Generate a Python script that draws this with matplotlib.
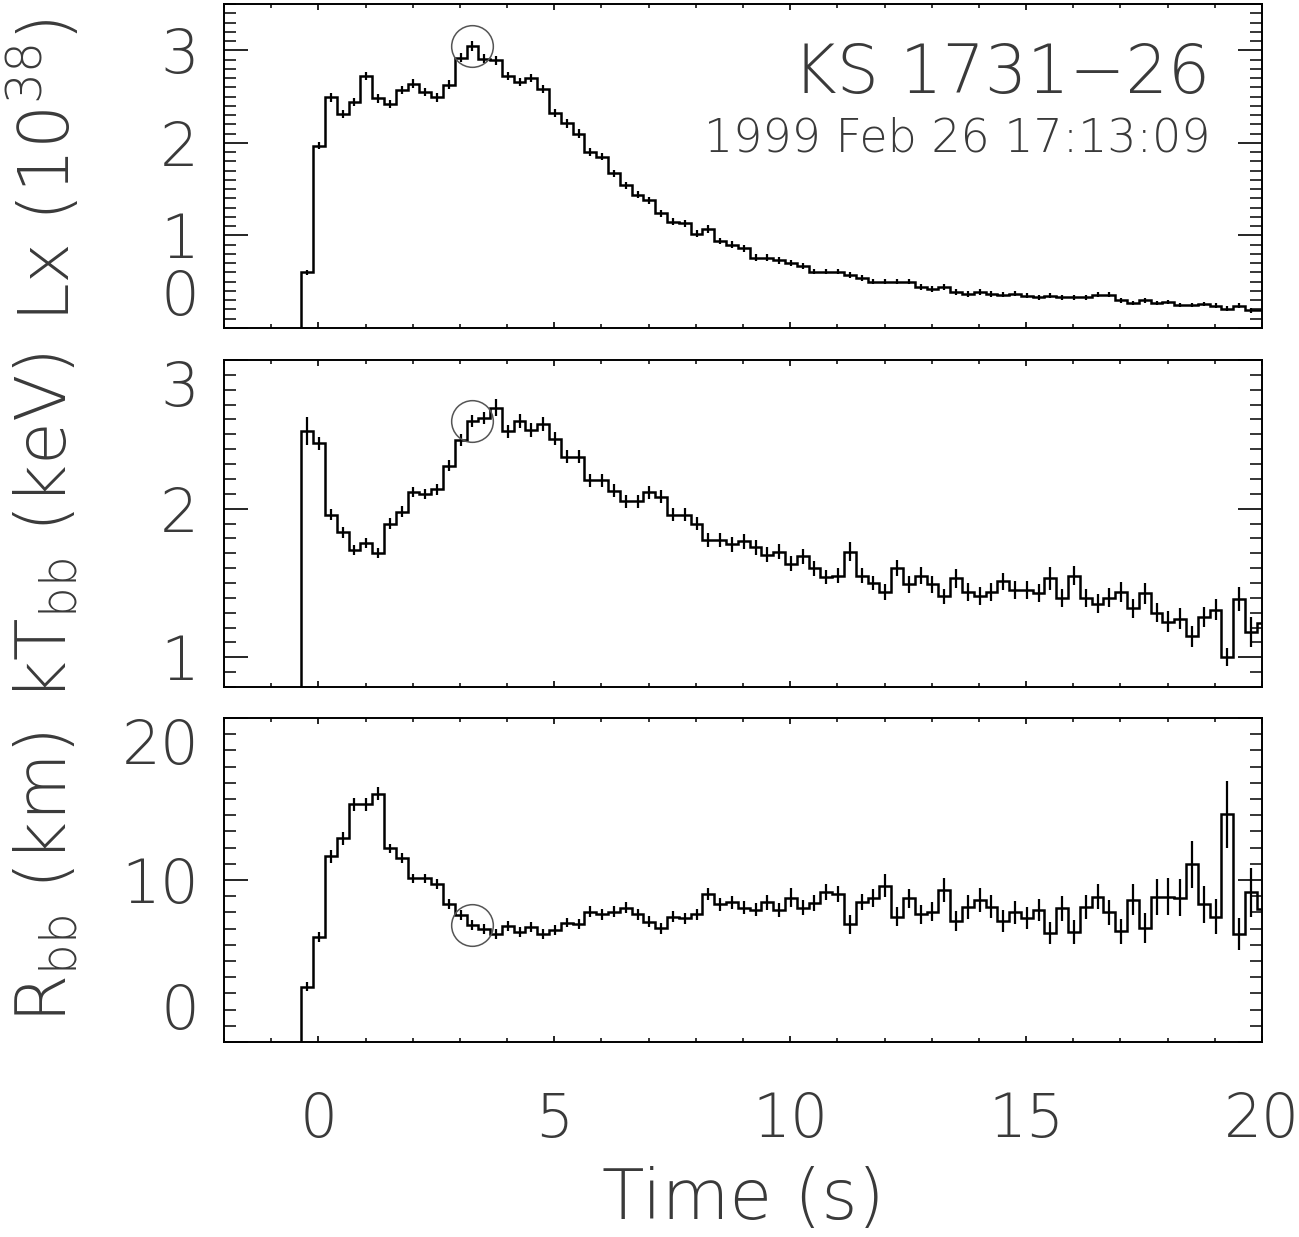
import numpy as np
import matplotlib
matplotlib.use('Agg')
import matplotlib.pyplot as plt
from matplotlib import font_manager as fm
from matplotlib.ticker import FixedLocator, MultipleLocator

# ---------------- data ----------------
bin_start = -0.36          # s, start of first time bin
bin_width = 0.25           # s

lum = [0.60, 1.97, 2.49, 2.31, 2.44, 2.72, 2.48, 2.42, 2.57, 2.64,
       2.55, 2.49, 2.63, 2.92, 3.05, 2.91, 2.89, 2.72, 2.66, 2.70,
       2.58, 2.32, 2.21, 2.10, 1.90, 1.85, 1.67, 1.54, 1.44, 1.38,
       1.24, 1.15, 1.13, 1.02, 1.07, 0.94, 0.90, 0.86, 0.76, 0.76,
       0.73, 0.70, 0.67, 0.61, 0.61, 0.61, 0.57, 0.54, 0.50, 0.50,
       0.50, 0.50, 0.44, 0.42, 0.44, 0.39, 0.37, 0.39, 0.37, 0.36,
       0.37, 0.35, 0.33, 0.35, 0.33, 0.33, 0.33, 0.36, 0.36, 0.30,
       0.27, 0.30, 0.27, 0.28, 0.25, 0.25, 0.26, 0.24, 0.21, 0.24,
       0.19, 0.19]
lum_err = [0.03, 0.04, 0.045, 0.045, 0.045, 0.045, 0.045, 0.045, 0.045, 0.045,
           0.045, 0.045, 0.045, 0.05, 0.055, 0.045, 0.045, 0.045, 0.045, 0.045,
           0.045, 0.045, 0.045, 0.045, 0.045, 0.04, 0.04, 0.04, 0.04, 0.04,
           0.04, 0.04, 0.04, 0.04, 0.04, 0.035, 0.035, 0.035, 0.035, 0.035,
           0.035, 0.03, 0.03, 0.03, 0.03, 0.03, 0.03, 0.03, 0.03, 0.03,
           0.03, 0.03, 0.03, 0.03, 0.03, 0.03, 0.03, 0.03, 0.03, 0.03,
           0.025, 0.025, 0.025, 0.025, 0.025, 0.025, 0.025, 0.025, 0.025, 0.025,
           0.025, 0.025, 0.025, 0.025, 0.025, 0.025, 0.025, 0.025, 0.025, 0.025,
           0.025, 0.025]

kt = [2.52, 2.44, 1.96, 1.84, 1.72, 1.77, 1.70, 1.90, 1.98, 2.11,
      2.10, 2.13, 2.29, 2.46, 2.59, 2.61, 2.68, 2.52, 2.59, 2.53,
      2.57, 2.47, 2.35, 2.35, 2.19, 2.19, 2.12, 2.05, 2.05, 2.11,
      2.08, 1.96, 1.96, 1.90, 1.79, 1.79, 1.76, 1.78, 1.74, 1.69,
      1.71, 1.63, 1.68, 1.60, 1.54, 1.55, 1.71, 1.55, 1.50, 1.44,
      1.60, 1.49, 1.55, 1.49, 1.41, 1.53, 1.44, 1.41, 1.44, 1.51,
      1.45, 1.45, 1.43, 1.53, 1.40, 1.55, 1.40, 1.36, 1.40, 1.44,
      1.33, 1.43, 1.30, 1.24, 1.26, 1.14, 1.27, 1.32, 1.00, 1.39,
      1.17, 1.23]
kt_err = [0.095, 0.045, 0.035, 0.035, 0.035, 0.035, 0.035, 0.035, 0.035, 0.035,
          0.035, 0.035, 0.035, 0.04, 0.04, 0.04, 0.06, 0.045, 0.045, 0.045,
          0.045, 0.045, 0.045, 0.045, 0.045, 0.045, 0.045, 0.045, 0.045, 0.045,
          0.045, 0.045, 0.045, 0.045, 0.045, 0.045, 0.05, 0.05, 0.05, 0.05,
          0.05, 0.05, 0.05, 0.05, 0.05, 0.05, 0.065, 0.05, 0.05, 0.055,
          0.055, 0.055, 0.055, 0.055, 0.05, 0.067, 0.06, 0.06, 0.06, 0.06,
          0.06, 0.06, 0.06, 0.08, 0.06, 0.065, 0.06, 0.065, 0.065, 0.065,
          0.065, 0.07, 0.065, 0.07, 0.07, 0.07, 0.065, 0.07, 0.06, 0.08,
          0.1, 0.1]

rbb = [3.42, 6.50, 11.48, 12.57, 14.67, 14.67, 15.31, 11.95, 11.38, 10.10,
       10.10, 9.75, 8.52, 7.84, 7.22, 6.98, 6.67, 7.16, 6.81, 7.12,
       6.67, 6.91, 7.37, 7.28, 8.04, 7.88, 8.04, 8.29, 7.88, 7.43,
       7.02, 7.74, 7.63, 7.88, 9.12, 8.50, 8.62, 8.29, 8.15, 8.62,
       8.15, 8.91, 8.29, 8.56, 9.28, 9.12, 7.26, 8.62, 8.91, 9.65,
       7.74, 8.87, 7.88, 8.04, 9.38, 7.47, 8.35, 8.77, 8.35, 7.47,
       8.00, 7.65, 8.15, 6.71, 8.25, 6.77, 8.35, 8.97, 8.00, 6.85,
       8.77, 7.02, 8.97, 8.97, 8.91, 10.97, 8.50, 7.74, 14.05, 6.65,
       9.24, 8.20]
rbb_err = [0.3, 0.3, 0.4, 0.4, 0.4, 0.4, 0.4, 0.3, 0.3, 0.3,
           0.3, 0.3, 0.3, 0.3, 0.3, 0.3, 0.3, 0.3, 0.3, 0.3,
           0.3, 0.3, 0.3, 0.3, 0.35, 0.35, 0.35, 0.35, 0.35, 0.35,
           0.35, 0.35, 0.35, 0.35, 0.36, 0.4, 0.4, 0.4, 0.4, 0.45,
           0.45, 0.57, 0.45, 0.5, 0.5, 0.5, 0.57, 0.5, 0.55, 0.72,
           0.6, 0.6, 0.6, 0.6, 0.72, 0.6, 0.74, 0.72, 0.7, 0.7,
           0.7, 0.7, 0.7, 0.67, 0.75, 0.75, 0.75, 0.76, 0.75, 0.77,
           0.96, 0.93, 1.1, 1.13, 1.13, 1.44, 1.16, 1.08, 2.06, 1.0,
           1.5, 1.0]

marked_bin = 14   # circled time bin

x_limits = (-2, 20)
x_major = [0, 5, 10, 15, 20]
x_labels = ['0', '5', '10', '15', '20']

panels = [
    dict(y=lum, err=lum_err, ylim=(0, 3.5), major=[0, 1, 2, 3], labels=['0', '1', '2', '3'], minor=0.1,
         ylabel=r'Lx (10$^{38}$)'),
    dict(y=kt, err=kt_err, ylim=(0.8, 3.0), major=[1, 2, 3], labels=['1', '2', '3'], minor=0.1,
         ylabel=r'kT$_{\rm bb}$ (keV)'),
    dict(y=rbb, err=rbb_err, ylim=(0, 20), major=[0, 10, 20], labels=['0', '10', '20'], minor=1,
         ylabel=r'R$_{\rm bb}$ (km)'),
]

source_name = 'KS 1731\u221226'
obs_date = '1999 Feb 26 17:13:09'

# ---------------- font ----------------
def pick_font():
    for fam in ['DejaVu Sans', 'Roboto', 'Lato', 'Open Sans', 'Noto Sans', 'Inter']:
        ws = []
        for f in fm.fontManager.ttflist:
            if f.name == fam and f.style == 'normal':
                w = f.weight if isinstance(f.weight, int) else fm.weight_dict.get(f.weight, 400)
                ws.append(w)
        light = [w for w in ws if 150 <= w <= 300]
        if light:
            return fam, min(light)
    return 'DejaVu Sans', 400

fam, wt = pick_font()
plt.rcParams['font.family'] = [fam, 'DejaVu Sans']
plt.rcParams['font.weight'] = wt
plt.rcParams['mathtext.fontset'] = 'custom'
plt.rcParams['mathtext.rm'] = f'{fam}:weight={wt}'
plt.rcParams['mathtext.it'] = f'{fam}:weight={wt}'
plt.rcParams['mathtext.default'] = 'regular'

txt_color = '#3a3a3a'

# ---------------- figure ----------------
W, H = 1299, 1237
fig = plt.figure(figsize=(W / 100, H / 100), dpi=100)

left_px, right_px = 224, 1262
tops = [(4, 328), (360, 687), (718, 1042)]
label_y_px = [170, 527, 877]

n = len(lum)
edges = bin_start + bin_width * np.arange(n + 1)
centers = 0.5 * (edges[:-1] + edges[1:])

axes = []
for i, (p, (tpx, bpx)) in enumerate(zip(panels, tops)):
    ax = fig.add_axes([left_px / W, 1 - bpx / H, (right_px - left_px) / W, (bpx - tpx) / H])
    axes.append(ax)
    y = np.array(p['y'])
    e = np.array(p['err'])
    ax.stairs(y, edges, baseline=p['ylim'][0], color='black', lw=1.8)
    ax.errorbar(centers, y, yerr=e, fmt='none', ecolor='black', elinewidth=1.6, capsize=0)
    ax.plot([centers[marked_bin]], [y[marked_bin]], 'o', ms=30, mfc='none', mec='#555555', mew=1.1)
    ax.set_xlim(*x_limits)
    ax.set_ylim(*p['ylim'])

    ax.xaxis.set_major_locator(FixedLocator(x_major))
    ax.xaxis.set_minor_locator(MultipleLocator(1))
    ax.yaxis.set_major_locator(FixedLocator(p['major']))
    ax.yaxis.set_minor_locator(MultipleLocator(p['minor']))
    ax.set_yticklabels(p['labels'])
    if i == 2:
        ax.set_xticklabels(x_labels)
    else:
        ax.set_xticklabels([])

    ax.tick_params(axis='both', which='both', direction='in', top=True, right=True,
                   colors='black', labelcolor=txt_color)
    ax.tick_params(axis='x', which='major', length=4.5, width=1.2, labelsize=43, pad=35)
    ax.tick_params(axis='x', which='minor', length=2.6, width=1.1)
    ax.tick_params(axis='y', which='major', length=17, width=1.2, labelsize=44, pad=18)
    ax.tick_params(axis='y', which='minor', length=8.5, width=1.1)
    for s in ax.spines.values():
        s.set_linewidth(1.4)

    # edge labels kept inside the axis span
    lo, hi = p['ylim']
    for val, lab in zip(p['major'], ax.get_yticklabels()):
        if abs(val - lo) < 1e-9:
            lab.set_va('bottom')
        elif abs(val - hi) < 1e-9:
            lab.set_va('top')

    fig.text(46 / W, 1 - label_y_px[i] / H, p['ylabel'], rotation=90, ha='center', va='center',
             fontsize=50, color=txt_color)

axes[0].text(0.95, 0.784, source_name, transform=axes[0].transAxes, ha='right', va='center',
             fontsize=48, color=txt_color)
axes[0].text(0.95, 0.586, obs_date, transform=axes[0].transAxes, ha='right', va='center',
             fontsize=33, color=txt_color)

fig.text(743 / W, 1 - 1200 / H, 'Time (s)', ha='center', va='center', fontsize=50, color=txt_color)

fig.savefig('out.png', dpi=100)
